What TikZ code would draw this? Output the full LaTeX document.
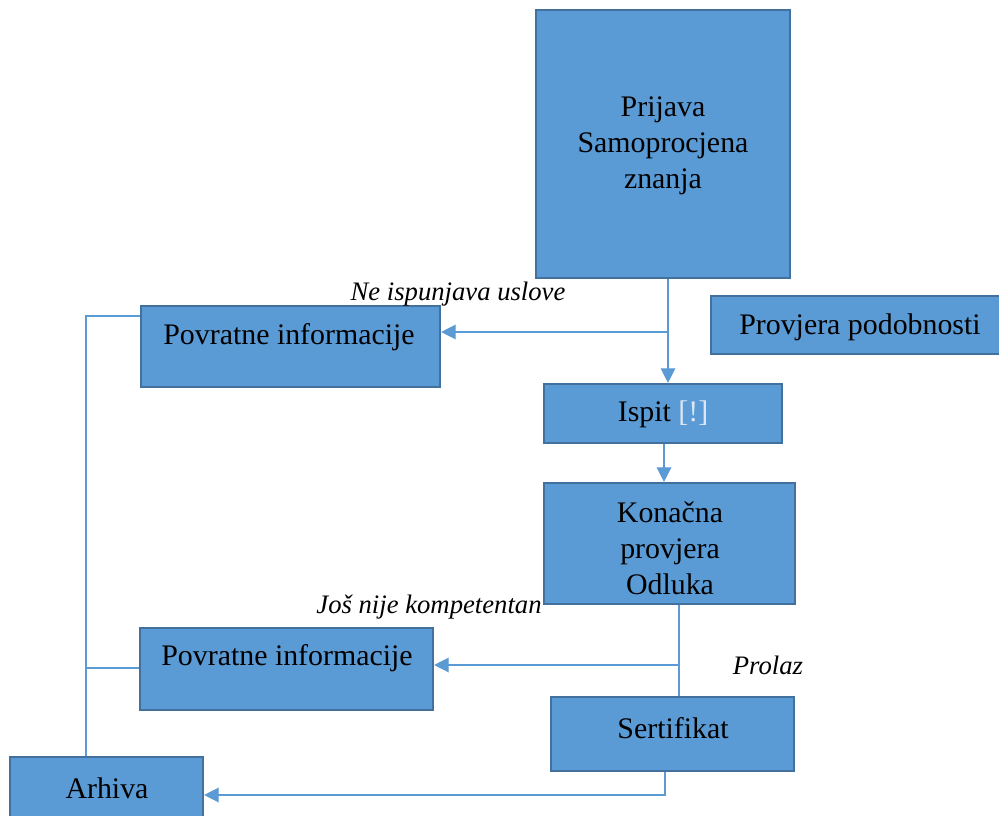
\documentclass[tikz,border=0pt]{standalone}
\usepackage{fontspec}
\setmainfont{Liberation Serif}
\usetikzlibrary{arrows.meta,fit}
\definecolor{boxfill}{HTML}{5B9BD5}
\definecolor{boxline}{HTML}{41719C}
\definecolor{conncol}{HTML}{5B9BD5}
\definecolor{marklight}{HTML}{DCE6F4}
\begin{document}
\begin{tikzpicture}[x=0.75pt,y=-0.75pt,
  box/.style={draw=boxline, fill=boxfill, line width=1.6pt, inner sep=0pt},
  txt/.style={font=\fontsize{22.4}{27}\selectfont, align=center, inner sep=0pt},
  lbl/.style={font=\fontsize{20}{24}\selectfont\itshape, inner sep=0pt},
  conn/.style={draw=conncol, line width=1pt},
  arr/.style={conn, -{Triangle[length=11pt,width=11pt]}}]
\useasboundingbox (0,0) rectangle (999,816);
% boxes
\node[box, fit={(536,10) (790,278)}] (prijava) {};
\node[box, fit={(711,296) (1012,354)}] (podobnost) {};
\node[box, fit={(141,306) (440,387)}] (pov1) {};
\node[box, fit={(544,384) (782,443)}] (ispit) {};
\node[box, fit={(544,483) (795,604)}] (konacna) {};
\node[box, fit={(140,628) (433,710)}] (pov2) {};
\node[box, fit={(551,697) (794,771)}] (sertifikat) {};
\node[box, fit={(10,757) (203,832)}] (arhiva) {};
% texts
\node[txt] (tprijava) at (663,146) {Prijava\\Samoprocjena\\znanja};
\node[txt] (tpodobnost) at (860,327) {Provjera podobnosti};
\node[txt] (tpov1) at (289,337) {Povratne informacije};
\node[txt] (tispit) at (663,414) {Ispit {\color{marklight}[!]}};
\node[txt] (tkonacna) at (670,548) {Konačna\\provjera\\Odluka};
\node[txt] (tpov2) at (287,658) {Povratne informacije};
\node[txt] (tsert) at (673,728) {Sertifikat};
\node[txt] (tarhiva) at (107,788) {Arhiva};
% labels
\node[lbl] (lne) at (458,294) {Ne ispunjava uslove};
\node[lbl] (ljos) at (429,607) {Još nije kompetentan};
\node[lbl] (lprolaz) at (768,665) {Prolaz};
% connectors
\coordinate (b1) at (668,332);
\coordinate (c1) at (664,445);
\coordinate (b2) at (679,665);
\coordinate (b3) at (665,795);
\coordinate (l1) at (86,316);
\coordinate (l2) at (86,668);
\draw[arr] (prijava.south -| b1) -- (ispit.north -| b1);
\draw[arr] (b1) -- (pov1.east |- b1);
\draw[arr] (ispit.south -| c1) -- (konacna.north -| c1);
\draw[conn] (konacna.south -| b2) -- (sertifikat.north -| b2);
\draw[arr] (b2) -- (pov2.east |- b2);
\draw[arr] (sertifikat.south -| b3) -- (b3) -- (arhiva.east |- b3);
\draw[conn] (pov1.west |- l1) -- (l1) -- (arhiva.north -| l1);
\draw[conn] (pov2.west |- l2) -- (l2);
\end{tikzpicture}
\end{document}
